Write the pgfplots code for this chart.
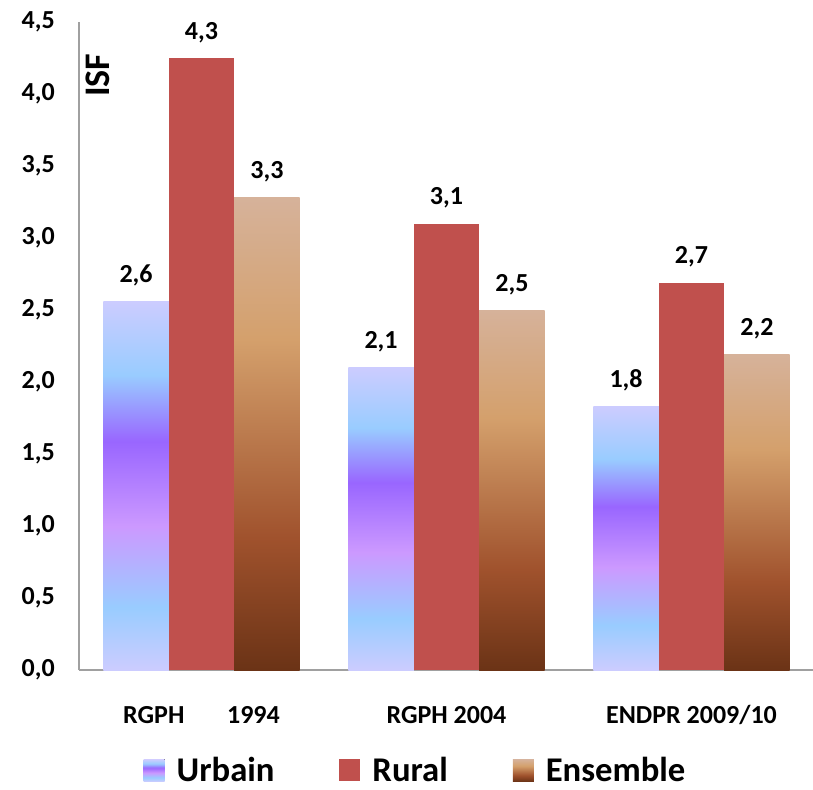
\documentclass[border=0pt]{standalone}
\usepackage{fontspec}
\setmainfont{Carlito}
\usepackage{pgfplots}
\usepackage{pgfplotstable}
\pgfplotsset{compat=1.18}

\definecolor{rural}{HTML}{C0504D}
\definecolor{axgray}{HTML}{A0A0A0}
% shadings: the path box maps onto 25bp..75bp
\pgfdeclareverticalshading{urbain}{100bp}{%
  color(0bp)=(rgb,255:red,204;green,204;blue,255);
  color(25bp)=(rgb,255:red,204;green,204;blue,255);
  color(33.5bp)=(rgb,255:red,153;green,204;blue,255);
  color(44.5bp)=(rgb,255:red,204;green,153;blue,255);
  color(56bp)=(rgb,255:red,153;green,102;blue,255);
  color(65bp)=(rgb,255:red,153;green,204;blue,255);
  color(75bp)=(rgb,255:red,204;green,204;blue,255);
  color(100bp)=(rgb,255:red,204;green,204;blue,255)}
\pgfdeclareverticalshading{ensemble}{100bp}{%
  color(0bp)=(rgb,255:red,107;green,51;blue,22);
  color(25bp)=(rgb,255:red,107;green,51;blue,22);
  color(39bp)=(rgb,255:red,160;green,82;blue,45);
  color(60bp)=(rgb,255:red,212;green,160;blue,108);
  color(75bp)=(rgb,255:red,214;green,178;blue,154);
  color(100bp)=(rgb,255:red,214;green,178;blue,154)}

\pgfplotstableread{
x urb urbl rur rurl ens ensl
0 2.56 2,6 4.25 4,3 3.28 3,3
1 2.10 2,1 3.10 3,1 2.50 2,5
2 1.83 1,8 2.69 2,7 2.19 2,2
}\isf

% one bar per plot, so that each bar gets its own shading
\pgfplotsset{
  only row/.style={x filter/.expression={x==#1 ? x : nan}},
  urb/.style={shading=urbain, draw=none, bar shift=-49.1pt},
  rur/.style={fill=rural, draw=none, bar shift=0pt},
  ens/.style={shading=ensemble, draw=none, bar shift=49.1pt},
}

\begin{document}
\begin{tikzpicture}
\useasboundingbox (0,0) rectangle (609.75pt,591.75pt);
\begin{axis}[
  at={(59.25pt,89.25pt)}, anchor=south west,
  scale only axis, width=551.25pt, height=486pt,
  xmin=-0.5, xmax=2.5, ymin=0, ymax=4.5,
  ybar=0pt, bar width=49.1pt,
  axis lines*=left,
  axis line style={draw=axgray, line width=1.2pt},
  major tick length=0pt,
  clip=false,
  xtick={0,1,2},
  xticklabels={RGPH\hspace*{32pt}1994, RGPH 2004, ENDPR 2009/10},
  ytick={0,0.5,...,4.5},
  /pgf/number format/.cd, use comma, fixed, fixed zerofill, precision=1, assume math mode=true,
  /pgfplots/.cd,
  yticklabel style={font=\bfseries\fontsize{19.5}{20}\selectfont, anchor=east, inner sep=0pt, xshift=-18pt},
  xticklabel style={font=\bfseries\fontsize{19.5}{20}\selectfont, anchor=base, inner sep=0pt, yshift=-39.75pt},
  point meta=explicit symbolic,
  nodes near coords,
  nodes near coords style={font=\bfseries\fontsize{19.5}{20}\selectfont, anchor=base, inner sep=0pt, yshift=14.25pt},
  legend columns=3,
  legend style={at={(axis description cs:0.4565,-0.155)}, anchor=center, draw=none,
    font=\bfseries\fontsize{26}{28}\selectfont,
    nodes={inner sep=0pt, anchor=west},
    /tikz/every odd column/.append style={column sep=9pt},
    /tikz/every even column/.append style={column sep=48.75pt}},
  legend image code/.code={\fill[#1] (0pt,-8.25pt) rectangle (15.75pt,8.25pt);},
]
\addplot[urb, only row=0] table[x=x, y=urb, meta=urbl] {\isf};
\addlegendentry{Urbain}
\addplot[rur, only row=0] table[x=x, y=rur, meta=rurl] {\isf};
\addlegendentry{Rural}
\addplot[ens, only row=0] table[x=x, y=ens, meta=ensl] {\isf};
\addlegendentry{Ensemble}
\addplot[urb, only row=1, forget plot] table[x=x, y=urb, meta=urbl] {\isf};
\addplot[rur, only row=1, forget plot] table[x=x, y=rur, meta=rurl] {\isf};
\addplot[ens, only row=1, forget plot] table[x=x, y=ens, meta=ensl] {\isf};
\addplot[urb, only row=2, forget plot] table[x=x, y=urb, meta=urbl] {\isf};
\addplot[rur, only row=2, forget plot] table[x=x, y=rur, meta=rurl] {\isf};
\addplot[ens, only row=2, forget plot] table[x=x, y=ens, meta=ensl] {\isf};
\node[rotate=90, font=\bfseries\fontsize{27}{28}\selectfont] at (axis cs:-0.4245,4.13) {ISF};
\end{axis}
\end{tikzpicture}
\end{document}
